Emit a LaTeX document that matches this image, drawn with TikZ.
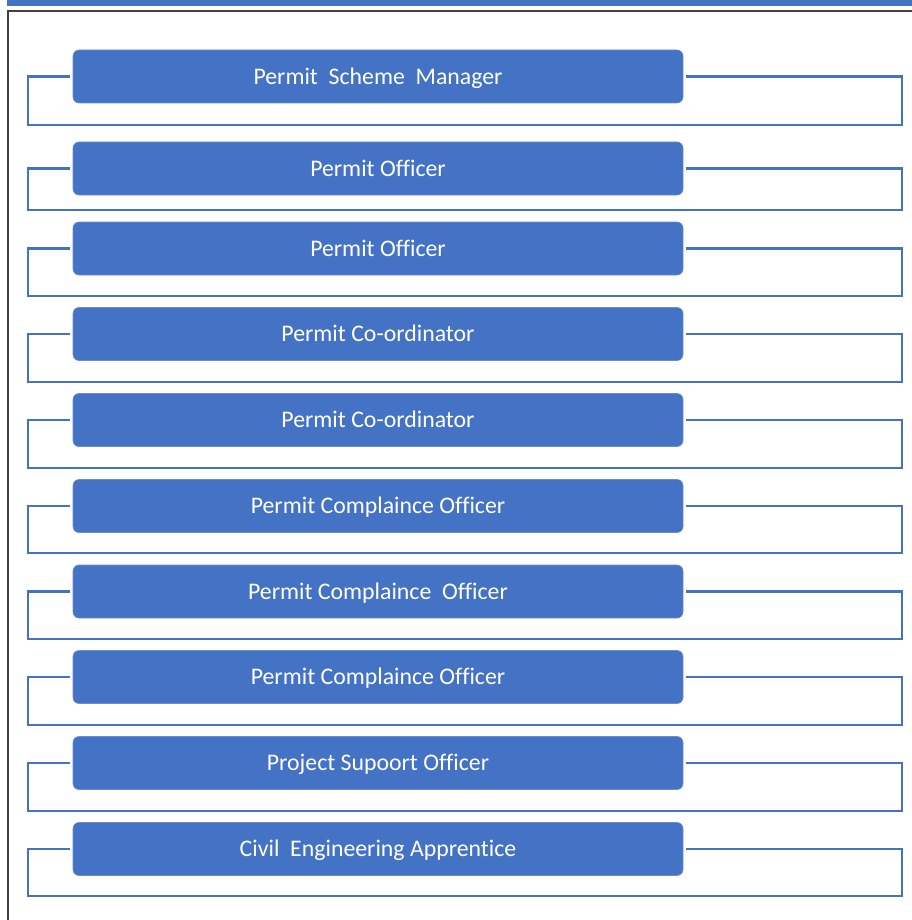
\documentclass[tikz,border=0pt]{standalone}
\usepackage{fontspec}
\setmainfont[Ligatures=NoCommon]{Carlito}
\definecolor{wblue}{HTML}{4472C4}
\definecolor{frame}{HTML}{404040}
\begin{document}
\begin{tikzpicture}[x=1pt,y=-1pt,
  role/.style={fill=wblue, draw=wblue!80!white, line width=0.6pt, rounded corners=6pt,
    minimum width=610pt, minimum height=53pt, inner sep=0pt,
    text height=15.6pt, text depth=0pt,
    text=white, font=\fontsize{23.8}{28}\selectfont},
  conn/.style={draw=wblue, line width=2.6pt}]
\useasboundingbox (0,0) rectangle (911,920);
\fill[wblue] (7,0) rectangle (912,6);
\draw[frame, line width=1.6pt] (8,922) -- (8,11) -- (913,11);
\foreach \i/\y/\b/\t in {
  1/76.5/125/{Permit\ \ Scheme\ \ Manager},
  2/168.5/210/{Permit Officer},
  3/248.5/296/{Permit Officer},
  4/334/382/{Permit Co-ordinator},
  5/420/468/{Permit Co-ordinator},
  6/506/553/{Permit Complaince Officer},
  7/591.5/639/{Permit Complaince\ \ Officer},
  8/677/725/{Permit Complaince Officer},
  9/763/811/{Project Supoort Officer},
  10/849/896/{Civil\ \ Engineering Apprentice}} {
  \node[role] (n\i) at (378,\y) {\t};
  \coordinate (bl\i) at (28,\b);
  \coordinate (tr\i) at (902,\y);
  \draw[conn] ([xshift=-3pt]n\i.west) -| (bl\i) -| (tr\i) -- ([xshift=3pt]n\i.east);
}
\end{tikzpicture}
\end{document}
